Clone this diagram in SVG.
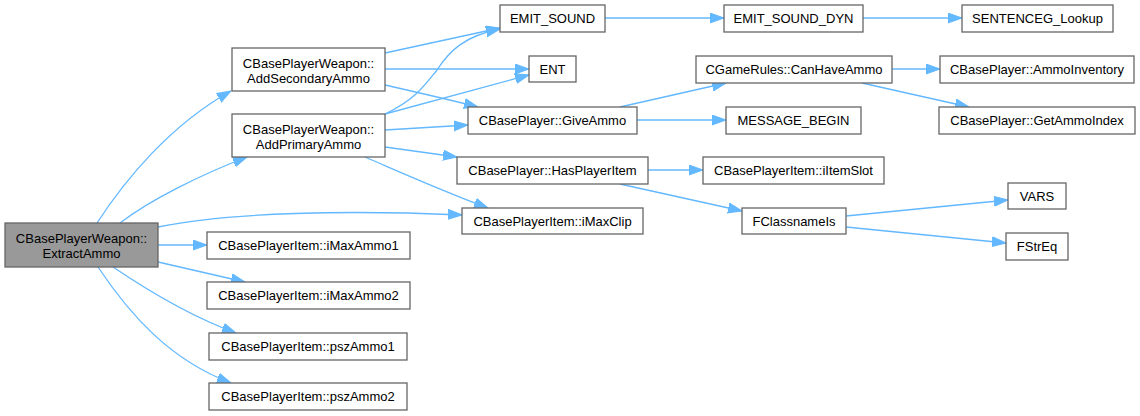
<svg xmlns="http://www.w3.org/2000/svg" width="1140" height="416" viewBox="0 0 1140 416">
<style>
.n rect{fill:#ffffff;stroke:#666666;stroke-width:1.3}
.n.hl rect{fill:#999999}
.n text{font-family:"Liberation Sans",Arial,sans-serif;font-size:13px;fill:#000000;text-anchor:middle}
.e path{fill:none;stroke:#63b8ff;stroke-width:1.3;marker-end:url(#ah)}
</style>
<defs>
<marker id="ah" markerUnits="userSpaceOnUse" markerWidth="15" markerHeight="12" refX="14" refY="5.5" orient="auto" viewBox="0 0 15 12">
<path d="M0,0.5 L14,5.5 L0,10.5 z" fill="#63b8ff" stroke="#63b8ff" stroke-width="1"/>
</marker>
</defs>
<rect width="1140" height="416" fill="#ffffff"/>
<g id="edges" class="e">
<path d="M97,223 C125,180 170,125 231,91"/>
<path d="M120,223 C150,200 200,175 247,157"/>
<path d="M158,227 C230,212 350,210 462,215"/>
<path d="M158,245 L207,245"/>
<path d="M158,262 L245,282"/>
<path d="M113,267 C150,292 195,318 236,333"/>
<path d="M98,267 C130,315 170,360 231,383"/>
<path d="M385,53 L500,28"/>
<path d="M385,69 L529,69"/>
<path d="M385,85 C420,93 455,101 478,107"/>
<path d="M385,114 C415,100 425,85 437,70 C450,50 465,36 500,29"/>
<path d="M385,114 L529,75"/>
<path d="M385,130 L468,125"/>
<path d="M385,147 L457,157"/>
<path d="M365,157 C400,172 440,190 488,208"/>
<path d="M605,18 L724,18"/>
<path d="M863,18 L962,18"/>
<path d="M620,107 L726,83"/>
<path d="M637,120 L726,120"/>
<path d="M892,69 L940,69"/>
<path d="M862,83 L969,107"/>
<path d="M648,170 L703,170"/>
<path d="M620,184 L742,211"/>
<path d="M846,216 L1008,200"/>
<path d="M846,227 L1006,243"/>
</g>
<g id="ExtractAmmo" class="n hl"><rect x="5" y="223" width="153" height="44"/><text x="81.5" y="243">CBasePlayerWeapon::</text><text x="81.5" y="258">ExtractAmmo</text></g>
<g id="AddSecondaryAmmo" class="n"><rect x="232" y="48" width="153" height="43"/><text x="308.5" y="68">CBasePlayerWeapon::</text><text x="308.5" y="83">AddSecondaryAmmo</text></g>
<g id="AddPrimaryAmmo" class="n"><rect x="232" y="114" width="153" height="43"/><text x="308.5" y="134">CBasePlayerWeapon::</text><text x="308.5" y="149">AddPrimaryAmmo</text></g>
<g id="iMaxAmmo1" class="n"><rect x="207" y="232" width="203" height="27"/><text x="308.5" y="250">CBasePlayerItem::iMaxAmmo1</text></g>
<g id="iMaxAmmo2" class="n"><rect x="207" y="282" width="203" height="27"/><text x="308.5" y="300">CBasePlayerItem::iMaxAmmo2</text></g>
<g id="pszAmmo1" class="n"><rect x="209" y="333" width="198" height="27"/><text x="308" y="351">CBasePlayerItem::pszAmmo1</text></g>
<g id="pszAmmo2" class="n"><rect x="209" y="383" width="198" height="27"/><text x="308" y="401">CBasePlayerItem::pszAmmo2</text></g>
<g id="EMIT_SOUND" class="n"><rect x="500" y="5" width="105" height="27"/><text x="552.5" y="23">EMIT_SOUND</text></g>
<g id="EMIT_SOUND_DYN" class="n"><rect x="724" y="5" width="139" height="27"/><text x="793.5" y="23">EMIT_SOUND_DYN</text></g>
<g id="SENTENCEG_Lookup" class="n"><rect x="962" y="5" width="151" height="27"/><text x="1037.5" y="23">SENTENCEG_Lookup</text></g>
<g id="ENT" class="n"><rect x="529" y="56" width="47" height="26"/><text x="552.5" y="74">ENT</text></g>
<g id="CanHaveAmmo" class="n"><rect x="696" y="56" width="196" height="27"/><text x="794" y="74">CGameRules::CanHaveAmmo</text></g>
<g id="AmmoInventory" class="n"><rect x="940" y="56" width="194" height="27"/><text x="1037" y="74">CBasePlayer::AmmoInventory</text></g>
<g id="GiveAmmo" class="n"><rect x="468" y="107" width="169" height="27"/><text x="552.5" y="125">CBasePlayer::GiveAmmo</text></g>
<g id="MESSAGE_BEGIN" class="n"><rect x="726" y="107" width="135" height="27"/><text x="793.5" y="125">MESSAGE_BEGIN</text></g>
<g id="GetAmmoIndex" class="n"><rect x="939" y="107" width="196" height="27"/><text x="1037" y="125">CBasePlayer::GetAmmoIndex</text></g>
<g id="HasPlayerItem" class="n"><rect x="457" y="157" width="191" height="27"/><text x="552.5" y="175">CBasePlayer::HasPlayerItem</text></g>
<g id="iItemSlot" class="n"><rect x="703" y="157" width="181" height="27"/><text x="793.5" y="175">CBasePlayerItem::iItemSlot</text></g>
<g id="iMaxClip" class="n"><rect x="462" y="208" width="181" height="26"/><text x="552.5" y="225.5">CBasePlayerItem::iMaxClip</text></g>
<g id="FClassnameIs" class="n"><rect x="742" y="208" width="104" height="26"/><text x="794" y="225.5">FClassnameIs</text></g>
<g id="VARS" class="n"><rect x="1008" y="183" width="58" height="26"/><text x="1037" y="200.5">VARS</text></g>
<g id="FStrEq" class="n"><rect x="1006" y="233" width="62" height="27"/><text x="1037" y="251">FStrEq</text></g>
</svg>
